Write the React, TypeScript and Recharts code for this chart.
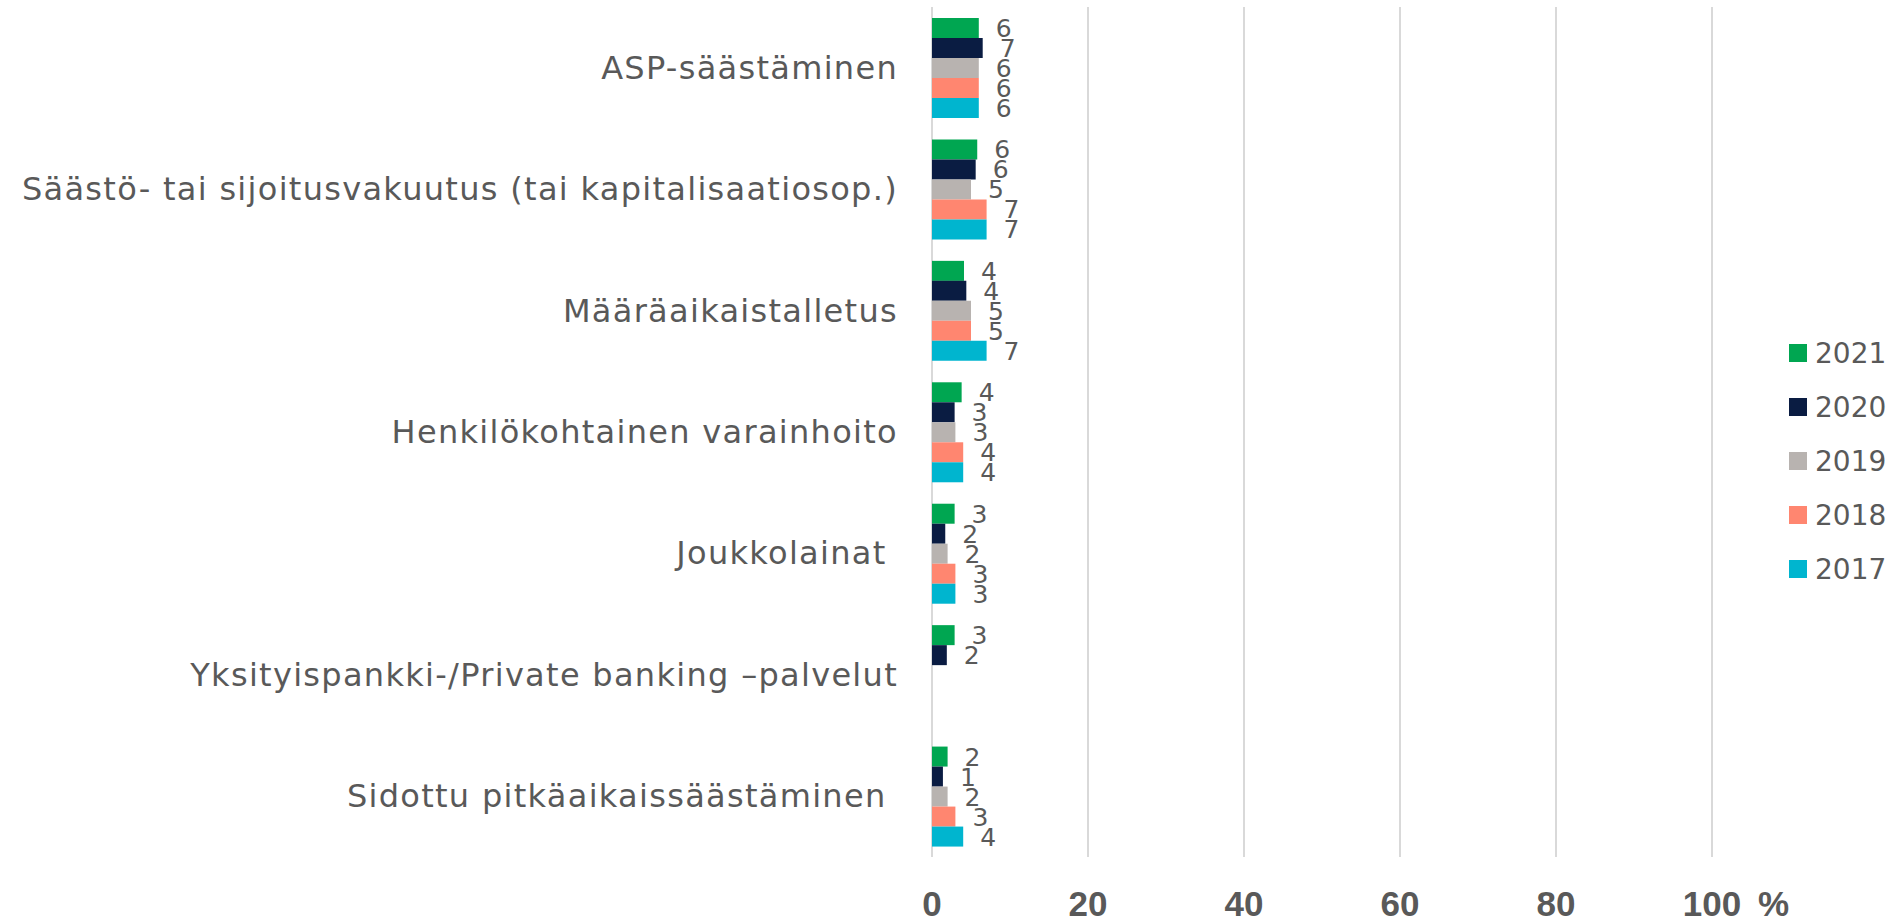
import React from "react";
import {
  BarChart,
  Bar,
  XAxis,
  YAxis,
  CartesianGrid,
  LabelList,
} from "recharts";

// categories (trailing spaces are in the original labels)
const categories = [
  "ASP-säästäminen",
  "Säästö- tai sijoitusvakuutus (tai kapitalisaatiosop.)",
  "Määräaikaistalletus",
  "Henkilökohtainen varainhoito",
  "Joukkolainat ",
  "Yksityispankki-/Private banking –palvelut",
  "Sidottu pitkäaikaissäästäminen ",
];

const v2021 = [6.0, 5.8, 4.1, 3.8, 2.9, 2.9, 2.0];
const v2020 = [6.5, 5.6, 4.4, 2.9, 1.7, 1.9, 1.4];
const v2019 = [6.0, 5.0, 5.0, 3.0, 2.0, null, 2.0];
const v2018 = [6.0, 7.0, 5.0, 4.0, 3.0, null, 3.0];
const v2017 = [6.0, 7.0, 7.0, 4.0, 3.0, null, 4.0];

const xTicks = [0, 20, 40, 60, 80, 100];

const series = [
  { key: "2021", color: "#00A651" },
  { key: "2020", color: "#0A1C42" },
  { key: "2019", color: "#B8B3B0" },
  { key: "2018", color: "#FF8670" },
  { key: "2017", color: "#00B5CF" },
];

const data = categories.map((name, i) => ({
  name,
  "2021": v2021[i],
  "2020": v2020[i],
  "2019": v2019[i],
  "2018": v2018[i],
  "2017": v2017[i],
}));

const TEXT = "#595959";

const CategoryTick = ({ x, y, payload }: any) => (
  <text
    x={x - 26}
    y={y}
    dy={11}
    textAnchor="end"
    fill={TEXT}
    fontFamily="DejaVu Sans"
    fontSize={32}
    letterSpacing={1.3}
    style={{ whiteSpace: "pre" }}
  >
    {payload.value}
  </text>
);

const ValueTick = ({ x, y, payload }: any) => (
  <g>
    <text
      x={x}
      y={y}
      dy={51}
      textAnchor="middle"
      fill={TEXT}
      fontFamily="Liberation Sans"
      fontWeight="bold"
      fontSize={35}
    >
      {payload.value}
    </text>
    {payload.value === 100 && (
      <text
        x={x + 46}
        y={y}
        dy={51}
        textAnchor="start"
        fill={TEXT}
        fontFamily="Liberation Sans"
        fontWeight="bold"
        fontSize={35}
      >
        %
      </text>
    )}
  </g>
);

const ValueLabel = ({ x, y, width, height, value }: any) => {
  if (value == null) return null;
  return (
    <text
      x={x + width + 17}
      y={y + height / 2}
      dy={9}
      textAnchor="start"
      fill={TEXT}
      fontFamily="DejaVu Sans"
      fontSize={25}
    >
      {Math.round(value)}
    </text>
  );
};

const YearLegend = () => (
  <div style={{ position: "absolute", left: 1789, top: 326 }}>
    {series.map((s) => (
      <div
        key={s.key}
        style={{ display: "flex", alignItems: "center", height: 54 }}
      >
        <span
          style={{
            width: 18,
            height: 18,
            background: s.color,
            marginRight: 8,
            display: "inline-block",
          }}
        />
        <span style={{ color: TEXT, fontFamily: "DejaVu Sans", fontSize: 28 }}>
          {s.key}
        </span>
      </div>
    ))}
  </div>
);

export default function App() {
  return (
    <div style={{ position: "relative", width: 1898, height: 924, background: "#fff" }}>
      <style>{`body{margin:0;overflow:hidden}`}</style>
      <BarChart
        width={1898}
        height={924}
        data={data}
        layout="vertical"
        barSize={20}
        barGap={0}
        margin={{ top: 7, right: 186, left: 0, bottom: 0 }}
      >
        <CartesianGrid horizontal={false} stroke="#D9D9D9" strokeWidth={2} />
        <XAxis
          type="number"
          domain={[0, 100]}
          ticks={xTicks}
          axisLine={false}
          tickLine={false}
          height={67}
          tick={<ValueTick />}
          interval={0}
        />
        <YAxis
          type="category"
          dataKey="name"
          width={932}
          axisLine={false}
          tickLine={false}
          tick={<CategoryTick />}
          interval={0}
        />
        {series.map((s) => (
          <Bar
            key={s.key}
            dataKey={s.key}
            name={s.key}
            fill={s.color}
            isAnimationActive={false}
          >
            <LabelList dataKey={s.key} content={<ValueLabel />} />
          </Bar>
        ))}
      </BarChart>
      <YearLegend />
    </div>
  );
}
